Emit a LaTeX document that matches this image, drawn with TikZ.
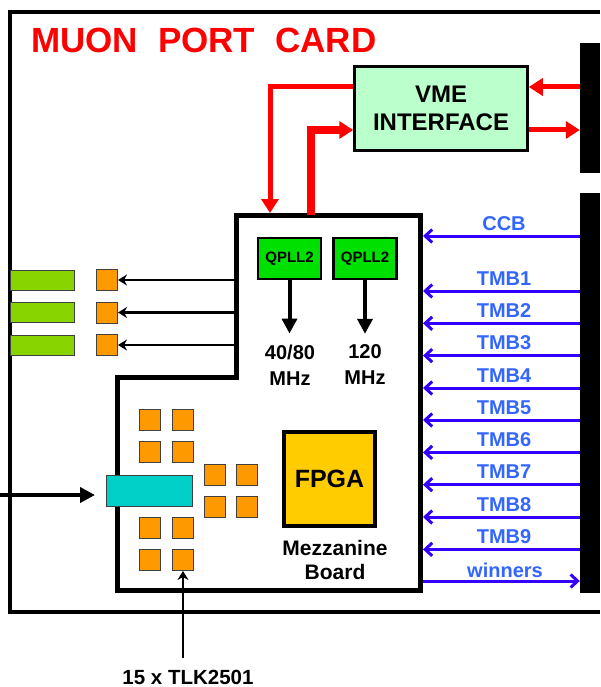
\documentclass[tikz,border=0pt]{standalone}
\usepackage{fontspec}
\setmainfont{Liberation Sans}
\usetikzlibrary{arrows.meta, calc}
\definecolor{cardred}{RGB}{255,0,0}
\definecolor{vmegreen}{HTML}{BBFFCC}
\definecolor{pllgreen}{HTML}{00E000}
\definecolor{fibregreen}{HTML}{88D400}
\definecolor{chiporange}{HTML}{FF9900}
\definecolor{serdescyan}{HTML}{00D0C8}
\definecolor{fpgayellow}{HTML}{FFCC00}
\definecolor{busblue}{HTML}{3300FF}
\definecolor{labelblue}{HTML}{3366FF}

\begin{document}
\begin{tikzpicture}[x=1pt, y=-1pt,
  cardtitle/.style={font=\fontsize{35}{40}\selectfont\bfseries, text=cardred, inner sep=0pt},
  lbl/.style={font=\fontsize{20}{26}\selectfont\bfseries, align=center, inner sep=0pt},
  buslbl/.style={font=\fontsize{20}{24}\selectfont\bfseries, text=labelblue, inner sep=0pt, anchor=base},
  chip/.style={draw=black!75, fill=chiporange, line width=1pt, minimum size=21pt, inner sep=0pt},
  fibre/.style={draw=black!75, fill=fibregreen, line width=1pt, minimum width=64pt, minimum height=20pt, inner sep=0pt},
  pll/.style={draw, fill=pllgreen, line width=2.5pt, minimum width=63pt, minimum height=41pt, inner sep=0pt,
    font=\fontsize{15}{18}\selectfont\bfseries},
  busbar/.style={fill=black, inner sep=0pt, minimum width=20pt},
  redline/.style={draw=cardred, line width=5pt, -{Triangle[length=14pt,width=17pt]}},
  busline/.style={draw=busblue, line width=3pt},
  thinarrow/.style={line width=2.5pt, -{Stealth[length=9pt,width=11pt]}},
  fatarrow/.style={line width=4pt, -{Triangle[length=15pt,width=15pt]}}
]
  \path[use as bounding box, fill=white] (0,0) rectangle (600,687);

  % Card outline and title
  \draw[line width=4pt] (600,12) -- (10,12) -- (10,612) -- (600,612);
  \node[cardtitle, anchor=base west] (title) at (31,53) {MUON\hspace{20pt}PORT\hspace{20pt}CARD};

  % Backplane connectors
  \node[busbar, minimum height=130pt] (vmebus) at (590,108) {};
  \node[busbar, minimum height=400pt] (backplane) at (590,393) {};

  % VME interface
  \node[draw, fill=vmegreen, line width=2.5pt, minimum width=173pt, minimum height=84pt, inner sep=0pt,
        font=\fontsize{24}{28}\selectfont\bfseries, align=center] (vme) at (441,108.5) {VME\\INTERFACE};
  \coordinate (vmein) at ([yshift=21.5pt]vme.east);
  \coordinate (vmeout) at ([yshift=-21.5pt]vme.east);
  \coordinate (vmel1) at ([yshift=21.5pt]vme.west);
  \coordinate (vmel2) at ([yshift=-21.5pt]vme.west);
  \draw[redline] (vmein -| vmebus.west) -- (vmein);
  \draw[redline] (vmeout) -- (vmeout -| vmebus.west);

  % Mezzanine board
  \coordinate (mzleft) at (236,0);
  \coordinate (mzright) at (423,0);
  \coordinate (mzdn) at (270,213);
  \coordinate (mzup) at (311,215);
  \draw[line width=5pt, line join=miter] (236,215) -- (420,215) -- (420,590) -- (117,590)
    -- (117,377) -- (236,377) -- cycle;
  \draw[redline] (vmel1) -| (mzdn);
  \draw[redline, line width=8pt] (mzup) |- (vmel2);

  % Clock PLLs
  \node[pll] (pllA) at (289.5,258.5) {QPLL2};
  \node[pll] (pllB) at (365,258.5) {QPLL2};
  \node[lbl] (clkA) at (290,365) {40/80\\MHz};
  \node[lbl] (clkB) at (365,365) {120\\MHz};
  \draw[fatarrow, shorten >=11pt] (pllA.south) -- (pllA.south |- clkA.north);
  \draw[fatarrow, shorten >=11pt] (pllB.south) -- (pllB.south |- clkB.north);

  % Optical outputs
  \foreach \y [count=\i] in {280,312.5,345} {
    \node[fibre] (fibre\i) at (42,\y) {};
    \node[chip] (opt\i) at (107,\y) {};
    \draw[thinarrow] (opt\i -| mzleft) -- (opt\i.east);
  }

  % Serial links
  \foreach \x/\y [count=\i] in {150/420, 183/420, 150/452, 183/452, 150/528, 183/528, 150/560, 183/560,
      214.5/474.5, 246.5/474.5, 214.5/506.5, 246.5/506.5}
    \node[chip] (tlk\i) at (\x,\y) {};
  \node[draw=black!75, fill=serdescyan, line width=1pt, minimum width=86pt, minimum height=31pt,
        inner sep=0pt] (serdes) at (149.5,491) {};
  \coordinate (datain) at (0,495);
  \draw[fatarrow, shorten >=11pt] (datain) -- (datain -| serdes.west);
  \node[lbl, font=\fontsize{20.5}{24}\selectfont\bfseries] (tlklbl) at (188,677) {15 x TLK2501};
  \draw[thinarrow] ($(tlk8.south |- tlklbl.north)+(0,-12)$) -- (tlk8.south);

  % FPGA
  \node[draw, fill=fpgayellow, line width=4.5pt, minimum width=91pt, minimum height=94pt,
        font=\fontsize{25}{30}\selectfont\bfseries] (fpga) at (329.5,479) {FPGA};
  \node[lbl, font=\fontsize{21}{24}\selectfont\bfseries] (mezzlbl) at (335,560) {Mezzanine\\Board};

  % Trigger inputs and output
  \foreach \y/\name in {236/CCB, 291/TMB1, 323.3/TMB2, 355.6/TMB3, 388/TMB4, 420/TMB5,
      452.4/TMB6, 484.7/TMB7, 517/TMB8, 549.4/TMB9} {
    \coordinate (in-\name) at (mzright |- 0,\y);
    \draw[busline, {Straight Barb[length=7pt,width=13pt]}-] (in-\name) -- (in-\name -| backplane.west);
    \node[buslbl, yshift=6pt] (lbl-\name) at (504,\y) {\name};
  }
  \coordinate (out) at (mzright |- 0,581);
  \draw[busline, -{Straight Barb[length=7pt,width=13pt]}] (out) -- (out -| backplane.west);
  \node[buslbl, yshift=4pt] (lbl-winners) at (505,581) {winners};
\end{tikzpicture}
\end{document}
